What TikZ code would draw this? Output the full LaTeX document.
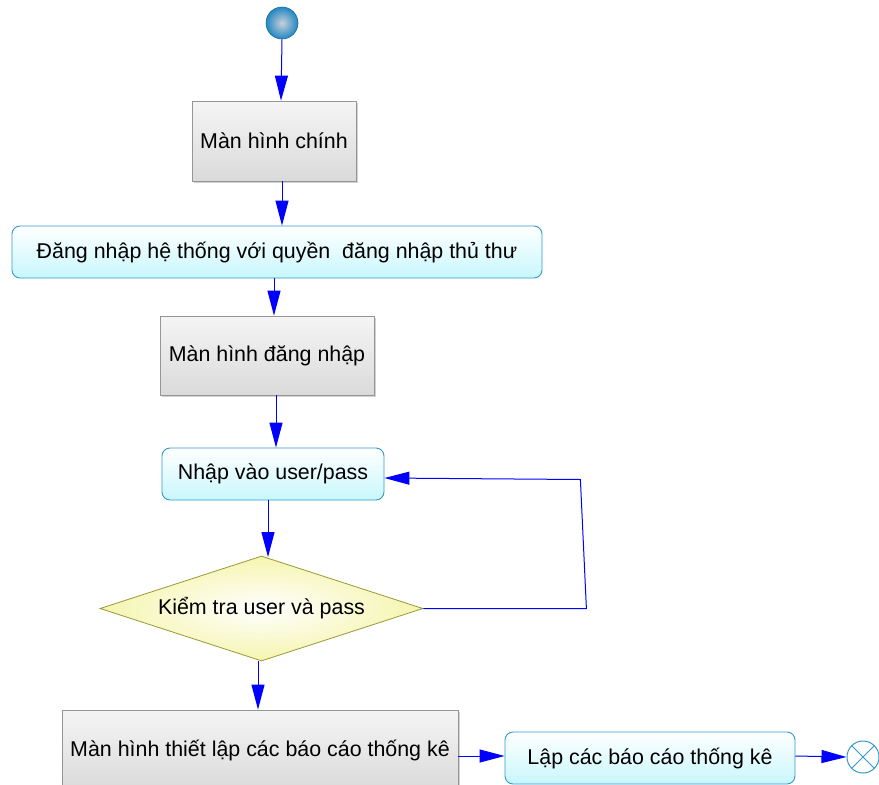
\documentclass[tikz,border=0pt]{standalone}
\usepackage{fontspec}
\setmainfont{Liberation Sans}
\usetikzlibrary{arrows.meta,shapes.geometric,calc,shadows}

\definecolor{flowblue}{RGB}{0,0,255}
\definecolor{cyanedge}{RGB}{51,153,204}
\definecolor{cyanfill}{RGB}{200,247,252}
\definecolor{greyedge}{RGB}{150,150,150}
\definecolor{greyfill}{RGB}{218,218,218}
\definecolor{diaedge}{RGB}{153,153,51}
\definecolor{diafill}{RGB}{245,245,175}
\definecolor{ballin}{RGB}{200,208,216}
\definecolor{ballout}{RGB}{35,135,195}

\begin{document}
\begin{tikzpicture}[x=1pt,y=-1pt,
  every node/.style={font=\fontsize{21.4}{25}\selectfont, text=black},
  screen/.style={rectangle, draw=greyedge, line width=0.8pt,
    top color=white!96!black, bottom color=greyfill,
    drop shadow={shadow xshift=2pt, shadow yshift=-2pt, fill=black!18, opacity=1}},
  action/.style={rectangle, rounded corners=8pt, draw=cyanedge, line width=0.9pt,
    top color=white, bottom color=cyanfill},
  decision/.style={diamond, draw=diaedge, line width=0.8pt, inner sep=0pt,
    inner color=white, outer color=diafill},
  flow/.style={draw=flowblue, line width=1pt,
    -{Triangle[length=25pt,width=13pt]}}
]
\useasboundingbox (0,0) rectangle (879,785);

% start / end
\node[circle, minimum size=32pt, inner sep=0pt, draw=ballout!80!black, line width=0.6pt,
      inner color=ballin, outer color=ballout] (start) at (282,23) {};
\node[circle, minimum size=32pt, inner sep=0pt, draw=cyanedge, line width=1pt, fill=white] (stop) at (863,757) {};
\draw[cyanedge, line width=1pt] (stop.north west) -- (stop.south east)
                                 (stop.north east) -- (stop.south west);

% activities
\node[screen, minimum width=164pt, minimum height=80pt] (b1) at (274,141) {Màn hình chính};
\node[action, minimum width=530pt, minimum height=52pt] (b2) at (277,252) {Đăng nhập hệ thống với quyền\ \ đăng nhập thủ thư};
\node[screen, minimum width=214pt, minimum height=79pt] (b3) at (267,355.5) {Màn hình đăng nhập};
\node[action, minimum width=222pt, minimum height=52pt] (b4) at (273,474) {Nhập vào user/pass};
\node[decision, shape aspect=3.076, minimum width=323pt, minimum height=105pt] (d) at (261.5,608.5) {Kiểm tra user và pass};
\node[screen, minimum width=396pt, minimum height=80pt] (b5) at (260,750) {Màn hình thiết lập các báo cáo thống kê};
\node[action, minimum width=290pt, minimum height=52pt] (b6) at (650,758) {Lập các báo cáo thống kê};

% connectors
\draw[flow] (start.south) -- ($(b1.north)+(7,0)$);
\draw[flow] ($(b1.south)+(8,0)$) -- ($(b2.north)+(5,0)$);
\draw[flow] ($(b2.south)+(-3,0)$) -- ($(b3.north)+(7,0)$);
\draw[flow] ($(b3.south)+(9,0)$) -- ($(b4.north)+(3,0)$);
\draw[flow] ($(b4.south)+(-5,0)$) -- ($(d.north)+(6.5,1.5)$);
\draw[flow] (d.east) -- ++(163,0) -- ++(-6,-129) -- ($(b4.east)+(0,4)$);
\draw[flow] ($(d.south)+(-3.5,0)$) -- ($(b5.north)+(-2,0)$);
\draw[flow] ($(b5.east)+(0,6)$) -- ($(b6.west)+(0,-2)$);
\draw[flow] ($(b6.east)+(0,-2)$) -- (stop.west);
\end{tikzpicture}
\end{document}
